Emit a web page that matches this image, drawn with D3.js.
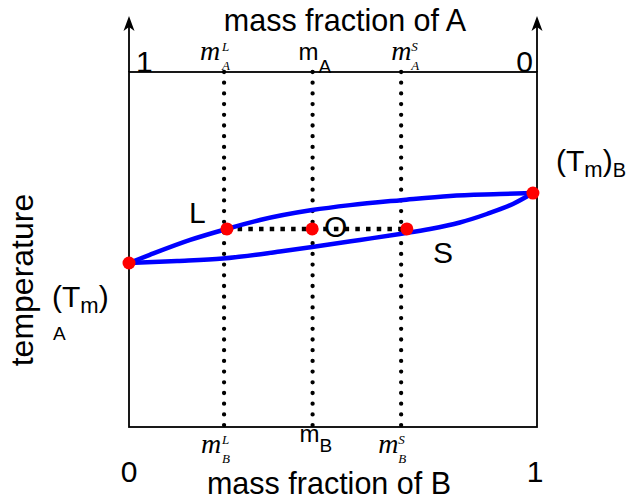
<!DOCTYPE html>
<html>
<head>
<meta charset="utf-8">
<script src="https://cdn.jsdelivr.net/npm/d3@7"></script>
<style>
  body { margin: 0; background: #fff; }
  text { font-family: 'Liberation Sans', Arial, sans-serif; fill: #000; }
  .serif { font-family: 'Liberation Serif', 'Times New Roman', serif; font-style: italic; }
</style>
</head>
<body>
<div id="graphics"></div>
<script>
// mass fraction of B vs temperature (arbitrary units 0-100)
const liquidusB = [0, 0.051, 0.150, 0.240, 0.321, 0.449, 0.542, 0.667, 0.787, 0.909, 0.99];
const liquidusT = [46.2, 48.5, 52.7, 55.8, 58.3, 61.1, 62.5, 63.9, 65.1, 65.6, 65.9];

const solidusB = [0, 0.118, 0.230, 0.370, 0.449, 0.566, 0.664, 0.738, 0.811, 0.877, 0.941, 0.99];
const solidusT = [46.2, 46.76, 47.46, 49.44, 50.7, 52.68, 54.37, 55.77, 57.61, 60.0, 62.82, 65.9];

// compositions of the three vertical lines: liquid, overall, solid
const compositions = [0.233, 0.450, 0.667];
// red points: A melt, L, O, S, B melt
const pointsB = [0, 0.240, 0.449, 0.681, 0.99];
const pointsT = [46.2, 55.8, 55.8, 55.8, 65.9];
const tieT = 55.8;

const width = 629;
const height = 500;

const svg = d3.select('#graphics')
  .append('svg')
  .attr('width', width)
  .attr('height', height);

const x = d3.scaleLinear().domain([0, 1]).range([129, 537]);
const y = d3.scaleLinear().domain([0, 100]).range([427, 72]);

// box
svg.append('rect')
  .attr('x', x(0)).attr('y', y(100))
  .attr('width', x(1) - x(0)).attr('height', y(0) - y(100))
  .attr('fill', 'none').attr('stroke', '#000').attr('stroke-width', 1.8);

// arrows on both sides going up
[0, 1].forEach((v) => {
  const ax = x(v);
  svg.append('line')
    .attr('x1', ax).attr('x2', ax)
    .attr('y1', y(100)).attr('y2', 22)
    .attr('stroke', '#000').attr('stroke-width', 1.8);
  svg.append('path')
    .attr('d', `M${ax},16 L${ax - 5.5},31 L${ax},27 L${ax + 5.5},31 Z`)
    .attr('fill', '#000');
});

// vertical dotted lines
svg.selectAll('.comp')
  .data(compositions)
  .enter().append('line')
  .attr('class', 'comp')
  .attr('x1', (d) => x(d)).attr('x2', (d) => x(d))
  .attr('y1', y(100)).attr('y2', y(0))
  .attr('stroke', '#000')
  .attr('stroke-width', 4.3)
  .attr('stroke-linecap', 'round')
  .attr('stroke-dasharray', '0,10.7');

// tie line
svg.append('line')
  .attr('x1', x(pointsB[1])).attr('x2', x(pointsB[3]))
  .attr('y1', y(tieT)).attr('y2', y(tieT))
  .attr('stroke', '#000')
  .attr('stroke-width', 4.5)
  .attr('stroke-dasharray', '4.5,6.2');

// curves
const line = d3.line()
  .x((d) => x(d[0]))
  .y((d) => y(d[1]))
  .curve(d3.curveMonotoneX);

svg.append('path')
  .datum(liquidusB.map((b, i) => [b, liquidusT[i]]))
  .attr('d', line)
  .attr('fill', 'none').attr('stroke', '#0000ff').attr('stroke-width', 4.5);

svg.append('path')
  .datum(solidusB.map((b, i) => [b, solidusT[i]]))
  .attr('d', line)
  .attr('fill', 'none').attr('stroke', '#0000ff').attr('stroke-width', 4.5);

// points
svg.selectAll('.pt')
  .data(pointsB)
  .enter().append('circle')
  .attr('class', 'pt')
  .attr('cx', (d) => x(d))
  .attr('cy', (d, i) => y(pointsT[i]))
  .attr('r', 6.5)
  .attr('fill', '#ff0000');

// axis titles
svg.append('text').text('mass fraction of A')
  .attr('x', 345).attr('y', 31).attr('text-anchor', 'middle').attr('font-size', 30.5);
svg.append('text').text('mass fraction of B')
  .attr('x', 329).attr('y', 494).attr('text-anchor', 'middle').attr('font-size', 30.5);
svg.append('text').text('temperature')
  .attr('transform', 'translate(33,280) rotate(-90)')
  .attr('text-anchor', 'middle').attr('font-size', 32);

// end values
svg.append('text').text('1').attr('x', x(0) + 7).attr('y', 72).attr('font-size', 30);
svg.append('text').text('0').attr('x', x(1) - 4).attr('y', 72).attr('text-anchor', 'end').attr('font-size', 30);
svg.append('text').text('0').attr('x', x(0)).attr('y', 482).attr('text-anchor', 'middle').attr('font-size', 30);
svg.append('text').text('1').attr('x', x(1) - 2).attr('y', 482).attr('text-anchor', 'middle').attr('font-size', 30);

// composition labels: italic m with a superscript and a subscript
function mathLabel(mx, base, sup, sub, sx) {
  svg.append('text').attr('class', 'serif').text('m')
    .attr('x', mx).attr('y', base).attr('font-size', 28);
  svg.append('text').attr('class', 'serif').text(sup)
    .attr('x', sx).attr('y', base - 9).attr('font-size', 13);
  svg.append('text').attr('class', 'serif').text(sub)
    .attr('x', sx).attr('y', base + 10).attr('font-size', 13);
}
mathLabel(x(compositions[0]) - 24, 60, 'L', 'A', x(compositions[0]) - 2);
mathLabel(x(compositions[2]) - 10, 60, 'S', 'A', x(compositions[2]) + 10);
mathLabel(x(compositions[0]) - 23, 453, 'L', 'B', x(compositions[0]) - 2);
mathLabel(x(compositions[2]) - 23, 453, 'S', 'B', x(compositions[2]) - 3);

const mA = svg.append('text').attr('x', x(compositions[1]) - 14).attr('y', 60).attr('font-size', 24);
mA.append('tspan').text('m');
mA.append('tspan').text('A').attr('font-size', 19).attr('dy', 13);
const mB = svg.append('text').attr('x', x(compositions[1]) - 13).attr('y', 442).attr('font-size', 24);
mB.append('tspan').text('m');
mB.append('tspan').text('B').attr('font-size', 19).attr('dy', 10);

// melting points
const tA = svg.append('text').attr('x', 52).attr('y', 307).attr('font-size', 30);
tA.append('tspan').text('(T');
tA.append('tspan').text('m').attr('font-size', 22).attr('dy', 6);
tA.append('tspan').text(')').attr('dy', -6);
svg.append('text').text('A').attr('x', 53).attr('y', 340).attr('font-size', 19);

const tB = svg.append('text').attr('x', 556).attr('y', 171).attr('font-size', 30);
tB.append('tspan').text('(T');
tB.append('tspan').text('m').attr('font-size', 22).attr('dy', 6);
tB.append('tspan').text(')').attr('dy', -6);
tB.append('tspan').text('B').attr('font-size', 20).attr('dy', 6);

// phase labels
svg.append('text').text('L').attr('x', 189).attr('y', 223).attr('font-size', 30);
svg.append('text').text('O').attr('x', 324).attr('y', 237).attr('font-size', 30);
svg.append('text').text('S').attr('x', 433).attr('y', 263).attr('font-size', 30);
</script>
</body>
</html>
